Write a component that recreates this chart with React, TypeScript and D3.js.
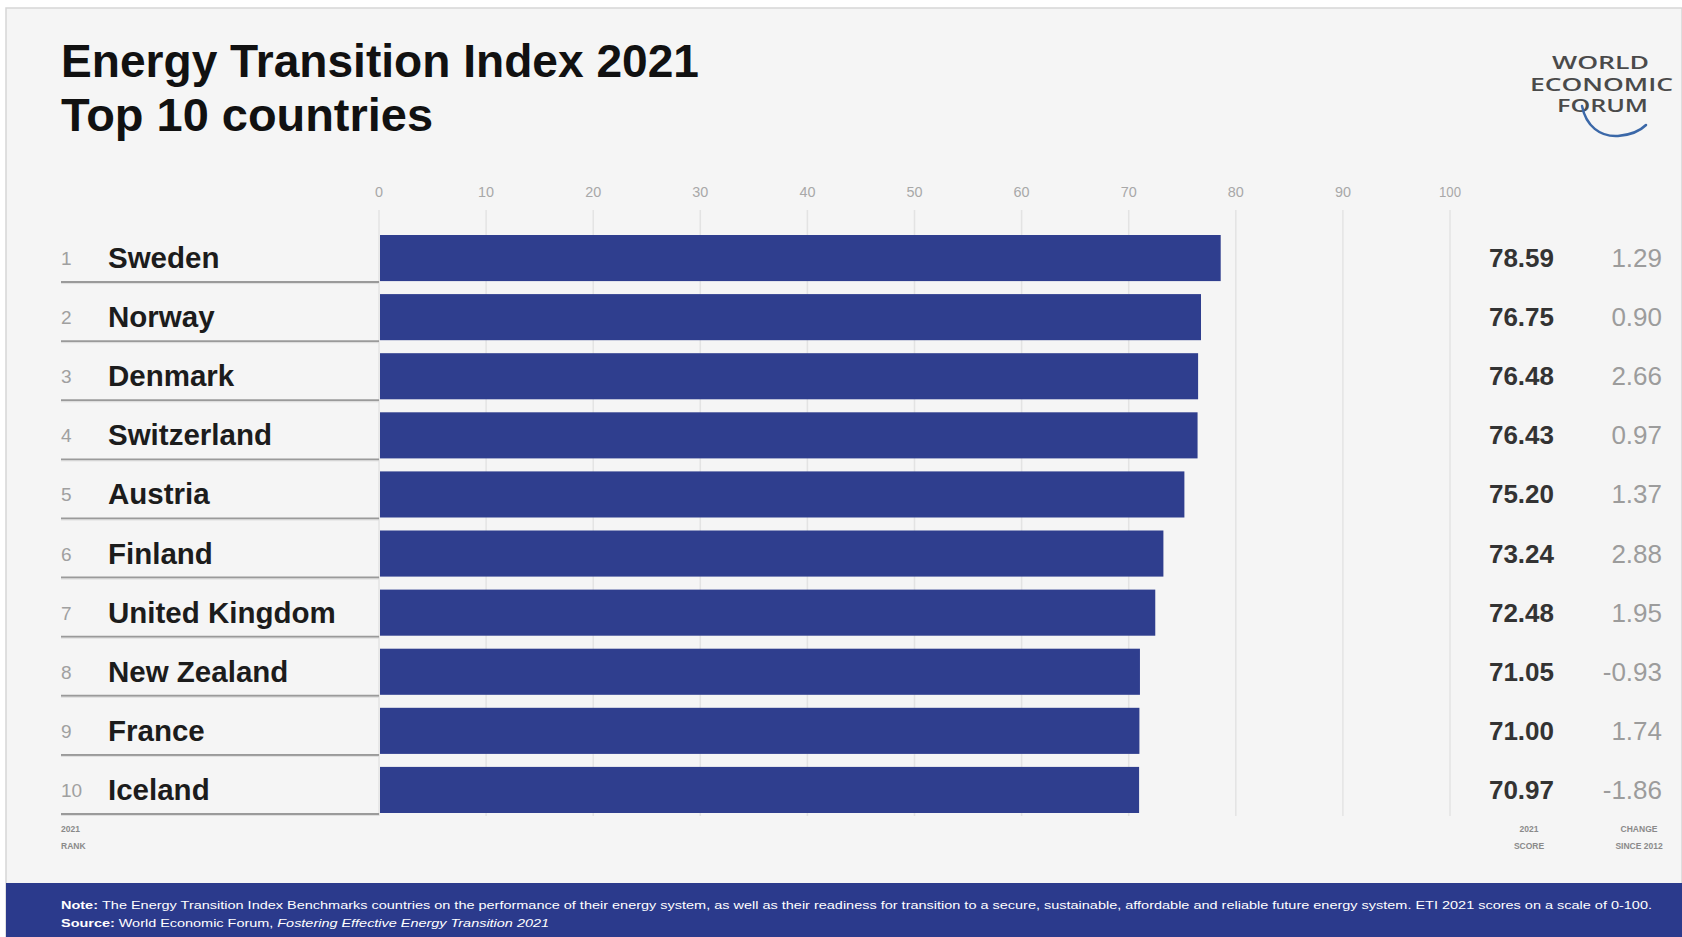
import React from "react";
import * as d3 from "d3";

const countries = ["Sweden", "Norway", "Denmark", "Switzerland", "Austria", "Finland", "United Kingdom", "New Zealand", "France", "Iceland"];
const ranks = [1, 2, 3, 4, 5, 6, 7, 8, 9, 10];
const scores = [78.59, 76.75, 76.48, 76.43, 75.2, 73.24, 72.48, 71.05, 71.0, 70.97];
const changes = ["1.29", "0.90", "2.66", "0.97", "1.37", "2.88", "1.95", "-0.93", "1.74", "-1.86"];
const ticks = [0, 10, 20, 30, 40, 50, 60, 70, 80, 90, 100];

const W = 1682;
const H = 937;
const FONT = "'Liberation Sans', Arial, Helvetica, sans-serif";
const BLUE = "#2f3e8e";

export default function App() {
  const x = d3.scaleLinear().domain([0, 100]).range([379, 1450]);
  const y = d3.scaleBand<string>().domain(countries).range([228.5, 819.5]).paddingInner(0.22).paddingOuter(0.11);
  const bw = y.bandwidth();

  return (
    <svg width={W} height={H} style={{ position: "absolute", left: 0, top: 0, background: "#fff" }} fontFamily={FONT}>
      <rect x={0} y={0} width={W} height={H} fill="#ffffff" />
      <rect x={6} y={8} width={W - 6} height={H - 8} fill="#f5f5f5" stroke="#d6d6d6" strokeWidth={1.5} />

      {/* Title */}
      <text x={61} y={77} fontSize={46} fontWeight="bold" fill="#111" textLength={638} lengthAdjust="spacingAndGlyphs">Energy Transition Index 2021</text>
      <text x={61} y={131} fontSize={46} fontWeight="bold" fill="#111" textLength={372} lengthAdjust="spacingAndGlyphs">Top 10 countries</text>

      {/* Logo */}
      <g fill="#4a4a4a" fontFamily="'Open Sans', 'DejaVu Sans', sans-serif" fontWeight={600} fontSize={18} textAnchor="start">
        <text x={1552} y={69} textLength={97} lengthAdjust="spacingAndGlyphs">WORLD</text>
        <text x={1530} y={91} textLength={143} lengthAdjust="spacingAndGlyphs">ECONOMIC</text>
        <text x={1557} y={112} textLength={91} lengthAdjust="spacingAndGlyphs">FORUM</text>
      </g>
      <path d="M1582,106 C1586,126 1600,137 1618,136 C1630,135 1640,131 1646,125" fill="none" stroke="#3b68a8" strokeWidth={2.5} strokeLinecap="round" />

      {/* Gridlines */}
      {ticks.map((t) => (
        <line key={"g" + t} x1={x(t)} x2={x(t)} y1={210} y2={816} stroke="#e3e3e3" strokeWidth={1.5} />
      ))}
      {/* Tick labels */}
      {ticks.map((t) => (
        <text key={"t" + t} x={x(t)} y={197} fontSize={15} fill="#a8a8a8" textAnchor="middle" textLength={t === 0 ? 8 : t === 100 ? 22 : 16} lengthAdjust="spacingAndGlyphs">{t}</text>
      ))}

      {/* Bars */}
      {countries.map((c, i) => (
        <rect key={"b" + c} x={x(0) + 1} y={y(c)!} width={x(scores[i]) - x(0) - 1} height={bw} fill={BLUE} />
      ))}

      {/* Row labels and separators */}
      {countries.map((c, i) => {
        const cy = y(c)! + bw / 2;
        return (
          <g key={"r" + c}>
            <line x1={61} x2={x(0)} y1={y(c)! + bw + 1} y2={y(c)! + bw + 1} stroke="#9a9a9a" strokeWidth={2} />
            <line x1={61} x2={x(0)} y1={y(c)! + bw + 2.5} y2={y(c)! + bw + 2.5} stroke="#dedede" strokeWidth={1} />
            <text x={61} y={cy + 7} fontSize={19} fill="#a0a0a0">{ranks[i]}</text>
            <text x={108} y={cy + 10} fontSize={29.5} fontWeight="bold" fill="#1c1c1c">{c}</text>
            <text x={1554} y={cy + 9} fontSize={26} fontWeight="bold" fill="#333" textAnchor="end">{scores[i].toFixed(2)}</text>
            <text x={1662} y={cy + 9} fontSize={26} fill="#9c9c9c" textAnchor="end">{changes[i]}</text>
          </g>
        );
      })}

      {/* Column captions */}
      <g fontSize={8.5} fontWeight="bold" fill="#8a8a8a">
        <text x={61} y={832}>2021</text>
        <text x={61} y={849}>RANK</text>
        <text x={1529} y={832} textAnchor="middle">2021</text>
        <text x={1529} y={849} textAnchor="middle">SCORE</text>
        <text x={1639} y={832} textAnchor="middle">CHANGE</text>
        <text x={1639} y={849} textAnchor="middle">SINCE 2012</text>
      </g>

      {/* Footer */}
      <rect x={6} y={883} width={W - 6} height={H - 883} fill="#2b3a8c" />
      <text x={61} y={909} fontSize={10.5} fill="#ffffff" textLength={1591} lengthAdjust="spacingAndGlyphs">
        <tspan fontWeight="bold">Note: </tspan>
        <tspan>The Energy Transition Index Benchmarks countries on the performance of their energy system, as well as their readiness for transition to a secure, sustainable, affordable and reliable future energy system. ETI 2021 scores on a scale of 0-100.</tspan>
      </text>
      <text x={61} y={927} fontSize={10.5} fill="#ffffff" textLength={488} lengthAdjust="spacingAndGlyphs">
        <tspan fontWeight="bold">Source: </tspan>
        <tspan>World Economic Forum, </tspan>
        <tspan fontStyle="italic">Fostering Effective Energy Transition 2021</tspan>
      </text>
    </svg>
  );
}
